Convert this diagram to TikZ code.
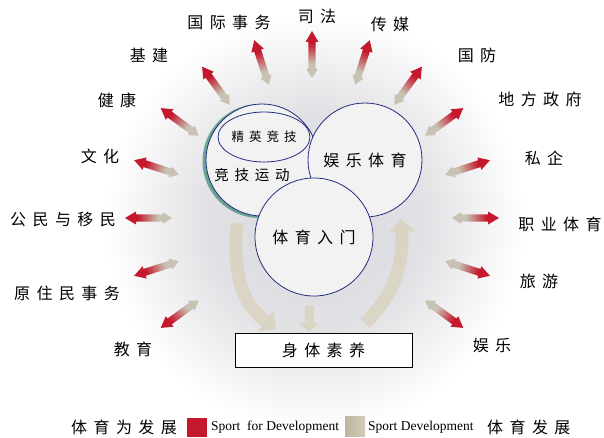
\documentclass[tikz,border=0pt]{standalone}
\usepackage{fontspec}
\setmainfont{Liberation Serif}
\newfontfamily\cjk[LetterSpace=40]{Noto Sans CJK SC}
\usetikzlibrary{arrows.meta,shapes.geometric}
\definecolor{sred}{RGB}{196,24,44}
\definecolor{sgrey}{RGB}{200,194,178}
\definecolor{navy}{RGB}{35,45,125}
\definecolor{cfill}{RGB}{242,242,243}
\definecolor{bandc}{RGB}{218,211,192}
\definecolor{halo}{RGB}{216,216,221}
\definecolor{glowc}{RGB}{40,130,100}
\pgfdeclarehorizontalshading{spoke}{100bp}{color(0bp)=(sgrey); color(40bp)=(sgrey); color(62bp)=(sred); color(100bp)=(sred)}
\pgfdeclareradialshading{haloshade}{\pgfpoint{0bp}{0bp}}{color(0bp)=(halo); color(13bp)=(halo!75!white); color(25bp)=(white); color(50bp)=(white)}
\tikzset{
  lab/.style={font=\cjk\fontsize{16}{18}\selectfont, inner sep=1pt},
  circ/.style={circle, draw=navy, fill=cfill, line width=0.8pt, inner sep=0pt},
  band/.style={draw=bandc, line width=13pt, opacity=0.85},
  legtext/.style={font=\fontsize{13.5}{15}\selectfont, inner sep=0pt, anchor=west},
}
\begin{document}
\begin{tikzpicture}[x=1pt,y=1pt]
\useasboundingbox (0,0) rectangle (604,437);
\fill[white] (0,0) rectangle (604,437);
% halo
\shade[shading=haloshade] (315,215) circle[radius=210pt];
\coordinate (hub) at (312,219);
% spokes
\foreach \a in {-36,-18,...,216} {
  \begin{scope}[transform canvas={shift={(312,219)},rotate=\a}]
    \shade[shading=spoke] (140,0) -- (149,5.8) -- (149,3.6) -- (176,3.6) -- (176,6.5) -- (187,0) -- (176,-6.5) -- (176,-3.6) -- (149,-3.6) -- (149,-5.8) -- cycle;
  \end{scope}
}
% big grey cycle arrows
\coordinate (lb1) at (237,214);
\coordinate (lb2) at (276,108);
\coordinate (rb1) at (365,114);
\coordinate (rb2) at (401,218);
\coordinate (mb1) at (309,131);
\coordinate (mb2) at (309,105);
\draw[band, -{Triangle[length=13pt,width=26pt]}] (lb1) .. controls (233,165) and (240,135) .. (lb2);
\draw[band, -{Triangle[length=13pt,width=26pt]}] (rb1) .. controls (392,140) and (404,170) .. (rb2);
\draw[band, line width=9pt, -{Triangle[length=9pt,width=20pt]}] (mb1) -- (mb2);
% circles
\fill[glowc, opacity=0.65] (259.5,276) circle[radius=57pt];
\node[circ, minimum size=112pt] (jingji) at (262,277) {};
\node[ellipse, draw=navy, fill=cfill, line width=0.8pt, minimum width=88pt, minimum height=50pt, inner sep=0pt, font=\cjk\fontsize{12.5}{14}\selectfont] (elite) at (264,300) {精英竞技};
\node[lab, font=\cjk\fontsize{14.5}{16}\selectfont] (jjtext) at (252,262) {竞技运动};
\node[circ, minimum size=114pt, lab] (yule) at (365,277) {娱乐体育};
\node[circ, minimum size=118pt, lab] (rumen) at (314,200) {体育入门};
% physical literacy box
\node[draw=black, fill=white, line width=0.8pt, minimum width=177pt, minimum height=34pt, lab] (phys) at (323.5,87) {身体素养};
% labels
\node[lab] (l1) at (317,421) {司法};
\node[lab] (l2) at (229,415) {国际事务};
\node[lab] (l3) at (390,413) {传媒};
\node[lab] (l4) at (149,382) {基建};
\node[lab] (l5) at (477,382) {国防};
\node[lab] (l6) at (117,337) {健康};
\node[lab] (l7) at (540,338) {地方政府};
\node[lab] (l8) at (100,281) {文化};
\node[lab] (l9) at (544,279) {私企};
\node[lab] (l10) at (63,218) {公民与移民};
\node[lab] (l11) at (560,213) {职业体育};
\node[lab] (l12) at (67,144) {原住民事务};
\node[lab] (l13) at (539,156) {旅游};
\node[lab] (l14) at (133,88) {教育};
\node[lab] (l15) at (492,92) {娱乐};
% legend
\node[lab, anchor=west, inner sep=0pt] (lg1) at (71,10) {体育为发展};
\node[fill=sred, minimum width=20pt, minimum height=19pt, inner sep=0pt, anchor=south west] (lgr) at (187,0) {};
\node[legtext] (lg2) at (211,10) {Sport\ \ for Development};
\node[left color={rgb,255:red,190;green,182;blue,160}, right color={rgb,255:red,212;green,204;blue,184}, minimum width=20pt, minimum height=20pt, inner sep=0pt, anchor=south west] (lgg) at (345,0) {};
\node[legtext] (lg3) at (368,10) {Sport Development};
\node[lab, anchor=west, inner sep=0pt] (lg4) at (487,10) {体育发展};
\end{tikzpicture}
\end{document}
